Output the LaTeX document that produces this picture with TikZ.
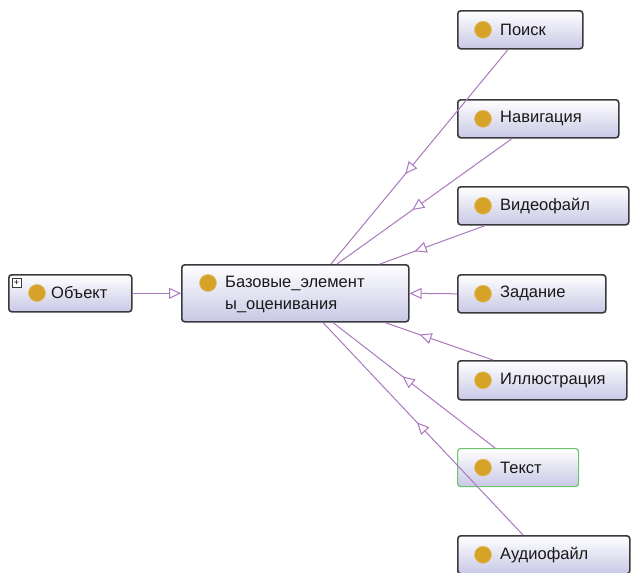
\documentclass[tikz,border=0pt]{standalone}
\usepackage{fontspec}
\setmainfont{Liberation Sans}
\usetikzlibrary{arrows.meta,decorations.markings}
\definecolor{boxbot}{RGB}{200,200,230}
\definecolor{boxline}{RGB}{58,58,62}
\definecolor{greenline}{RGB}{110,196,110}
\definecolor{linkcol}{RGB}{170,120,190}
\definecolor{dotcol}{RGB}{214,162,40}
\tikzset{
  cls/.style={draw=boxline, line width=1.6pt, rounded corners=3pt, top color=white, bottom color=boxbot, inner sep=0pt, anchor=north west},
  selcls/.style={cls, draw=greenline, line width=1.2pt},
  dot/.style={circle, fill=dotcol, draw=dotcol!70!white, line width=0.6pt, minimum size=17pt, inner sep=0pt},
  lbl/.style={anchor=west, inner sep=0pt, font=\fontsize{16.5}{22}\selectfont, text=black!90},
  link/.style={draw=linkcol, line width=1pt},
  ot/.tip={Triangle[length=12pt,width=11pt,fill=white]},
  tri/.style={postaction={decorate}, decoration={markings, mark=at position #1 with {\arrow{ot}}}},
}
\begin{document}
\begin{tikzpicture}[x=1pt,y=-1pt]
\useasboundingbox (0,0) rectangle (640,573);
% boxes
\node[cls, minimum width=123pt, minimum height=37pt] (obj) at (8,274) {};
\node[cls, minimum width=227pt, minimum height=57pt] (base) at (181,264) {};
\node[cls, minimum width=125pt, minimum height=38pt] (poisk) at (457,10) {};
\node[cls, minimum width=161pt, minimum height=38pt] (navig) at (457,99) {};
\node[cls, minimum width=171pt, minimum height=38pt] (video) at (457,186) {};
\node[cls, minimum width=148pt, minimum height=38pt] (zad) at (457,274) {};
\node[cls, minimum width=169pt, minimum height=39pt] (ill) at (457,360) {};
\node[selcls, minimum width=121pt, minimum height=38pt] (tekst) at (457,448) {};
\node[cls, minimum width=172pt, minimum height=38pt] (audio) at (457,535) {};
% expander on Объект
\node[draw=boxline, fill=white, line width=0.6pt, minimum size=9pt, inner sep=0pt, font=\fontsize{9}{9}\selectfont] (plus) at (16.5,283) {+};
% dots and labels
\node[dot] (obj-d) at (37,293) {};
\node[lbl] (obj-t) at (51,293) {Объект};
\node[dot] (base-d) at (208,283) {};
\node[lbl, align=left] (base-t) at (225,294) {Базовые\_элемент\\ы\_оценивания};
\foreach \n/\t in {poisk/Поиск, navig/Навигация, video/Видеофайл, zad/Задание, ill/Иллюстрация, tekst/Текст, audio/Аудиофайл}{
  \node[dot] (\n-d) at ([xshift=26pt]\n.west) {};
  \node[lbl] (\n-t) at ([xshift=43pt]\n.west) {\t};
}
% connectors (child -> parent)
\draw[link, -{ot}] (obj.east) -- (base.west);
\draw[link, -{ot}] (zad.west) -- (base.east);
\draw[link, tri=0.58] ([xshift=51pt]poisk.south west) -- ([xshift=150pt]base.north west);
\draw[link, tri=0.57] ([xshift=55pt]navig.south west) -- ([xshift=156pt]base.north west);
\draw[link, tri=0.67] ([xshift=28pt]video.south west) -- ([xshift=199pt]base.north west);
\draw[link, tri=0.68] ([xshift=36pt]ill.north west) -- ([xshift=204pt]base.south west);
\draw[link, tri=0.57] ([xshift=38pt]tekst.north west) -- ([xshift=152pt]base.south west);
\draw[link, tri=0.53] ([xshift=66pt]audio.north west) -- ([xshift=142pt]base.south west);
\end{tikzpicture}
\end{document}
